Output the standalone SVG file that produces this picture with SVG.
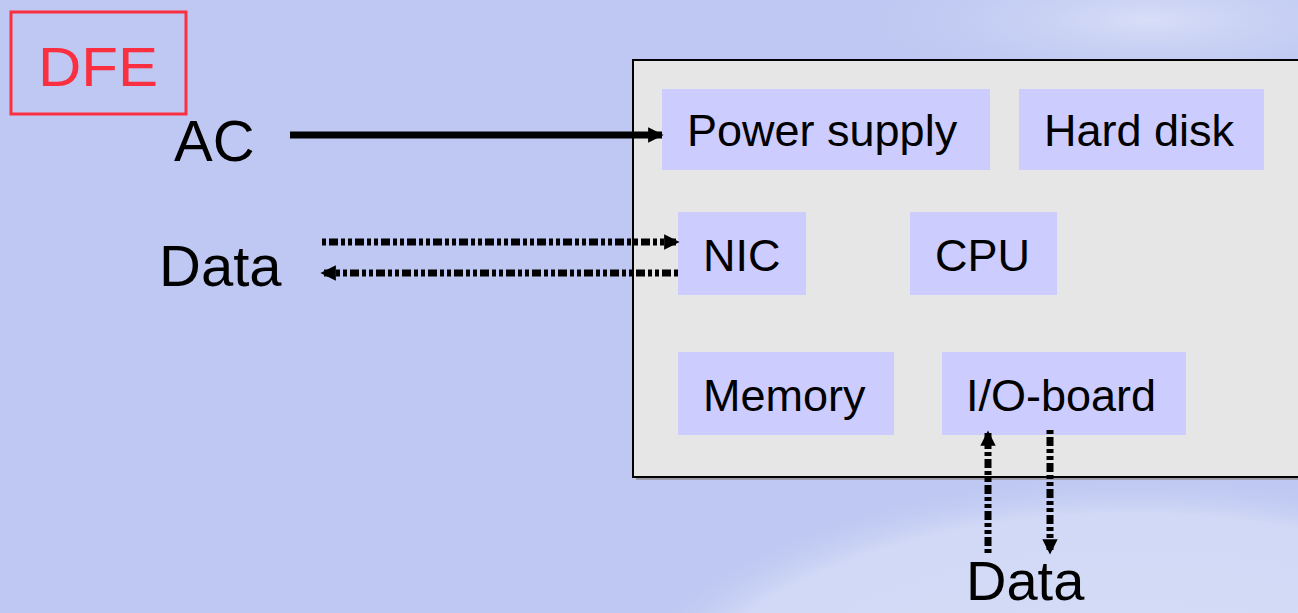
<svg xmlns="http://www.w3.org/2000/svg" width="1298" height="613" viewBox="0 0 1298 613">
<defs>
<radialGradient id="swoosh" cx="0.5" cy="0.5" r="0.5">
<stop offset="0" stop-color="#D6DDF7"/>
<stop offset="0.85" stop-color="#D2D9F6"/>
<stop offset="1" stop-color="#BEC8F2" stop-opacity="0"/>
</radialGradient>
<radialGradient id="glow" cx="0.5" cy="0.5" r="0.5">
<stop offset="0" stop-color="#D8DEF7"/>
<stop offset="1" stop-color="#BEC8F2" stop-opacity="0"/>
</radialGradient>
<marker id="ah" viewBox="0 0 10 10" refX="9" refY="5" markerWidth="2.2" markerHeight="2.6" orient="auto" markerUnits="strokeWidth">
<path d="M0,0 L10,5 L0,10 z" fill="#000"/>
</marker>
<style>
.lbl{font-family:"Liberation Sans",Arial,sans-serif;fill:#000}
.big{font-size:58px}
.box{font-size:45px}
.comp{fill:#CCCCFF}
.solid{stroke:#000;stroke-width:7;fill:none}
.dot{stroke:#000;stroke-width:7;fill:none;stroke-dasharray:4 3 9 3 4 3}
</style>
</defs>
<rect x="0" y="0" width="1298" height="613" fill="#BEC8F2"/>
<ellipse cx="1130" cy="760" rx="560" ry="290" fill="url(#swoosh)"/>
<ellipse cx="1150" cy="20" rx="330" ry="80" fill="url(#glow)"/>

<g id="dfe">
<rect x="11" y="12" width="175" height="102" fill="none" stroke="#FA3040" stroke-width="3"/>
<text x="38" y="86" font-family="Liberation Sans,Arial,sans-serif" font-size="56" fill="#FA3040" textLength="120" lengthAdjust="spacingAndGlyphs">DFE</text>
</g>

<g id="ac"><text class="lbl big" x="174" y="161">AC</text></g>
<g id="data-left"><text class="lbl big" x="159" y="286">Data</text></g>
<g id="data-bottom"><text class="lbl" font-size="56" x="966" y="600">Data</text></g>

<g id="system">
<rect x="636" y="63" width="700" height="417" fill="#9a9aa8"/>
<rect x="633" y="60" width="700" height="417" fill="#E6E6E6" stroke="#000" stroke-width="2"/>
</g>

<g id="power-supply"><rect class="comp" x="662" y="89" width="328" height="81"/><text class="lbl box" x="687" y="146">Power supply</text></g>
<g id="hard-disk"><rect class="comp" x="1019" y="89" width="245" height="81"/><text class="lbl box" x="1044" y="146">Hard disk</text></g>
<g id="nic"><rect class="comp" x="678" y="212" width="128" height="83"/><text class="lbl box" x="703" y="271">NIC</text></g>
<g id="cpu"><rect class="comp" x="910" y="212" width="147" height="83"/><text class="lbl box" x="935" y="271">CPU</text></g>
<g id="memory"><rect class="comp" x="678" y="352" width="216" height="83"/><text class="lbl box" x="703" y="411">Memory</text></g>
<g id="io-board"><rect class="comp" x="942" y="352" width="244" height="83"/><text class="lbl box" x="966" y="411">I/O-board</text></g>

<g id="connectors">
<line class="solid" x1="290" y1="135" x2="662" y2="135" marker-end="url(#ah)"/>
<line class="dot" x1="322" y1="242" x2="678" y2="242" marker-end="url(#ah)"/>
<line class="dot" x1="678" y1="273" x2="322" y2="273" marker-end="url(#ah)"/>
<line class="dot" x1="988" y1="553" x2="988" y2="432" marker-end="url(#ah)"/>
<line class="dot" x1="1050" y1="430" x2="1050" y2="553" marker-end="url(#ah)"/>
</g>
</svg>
